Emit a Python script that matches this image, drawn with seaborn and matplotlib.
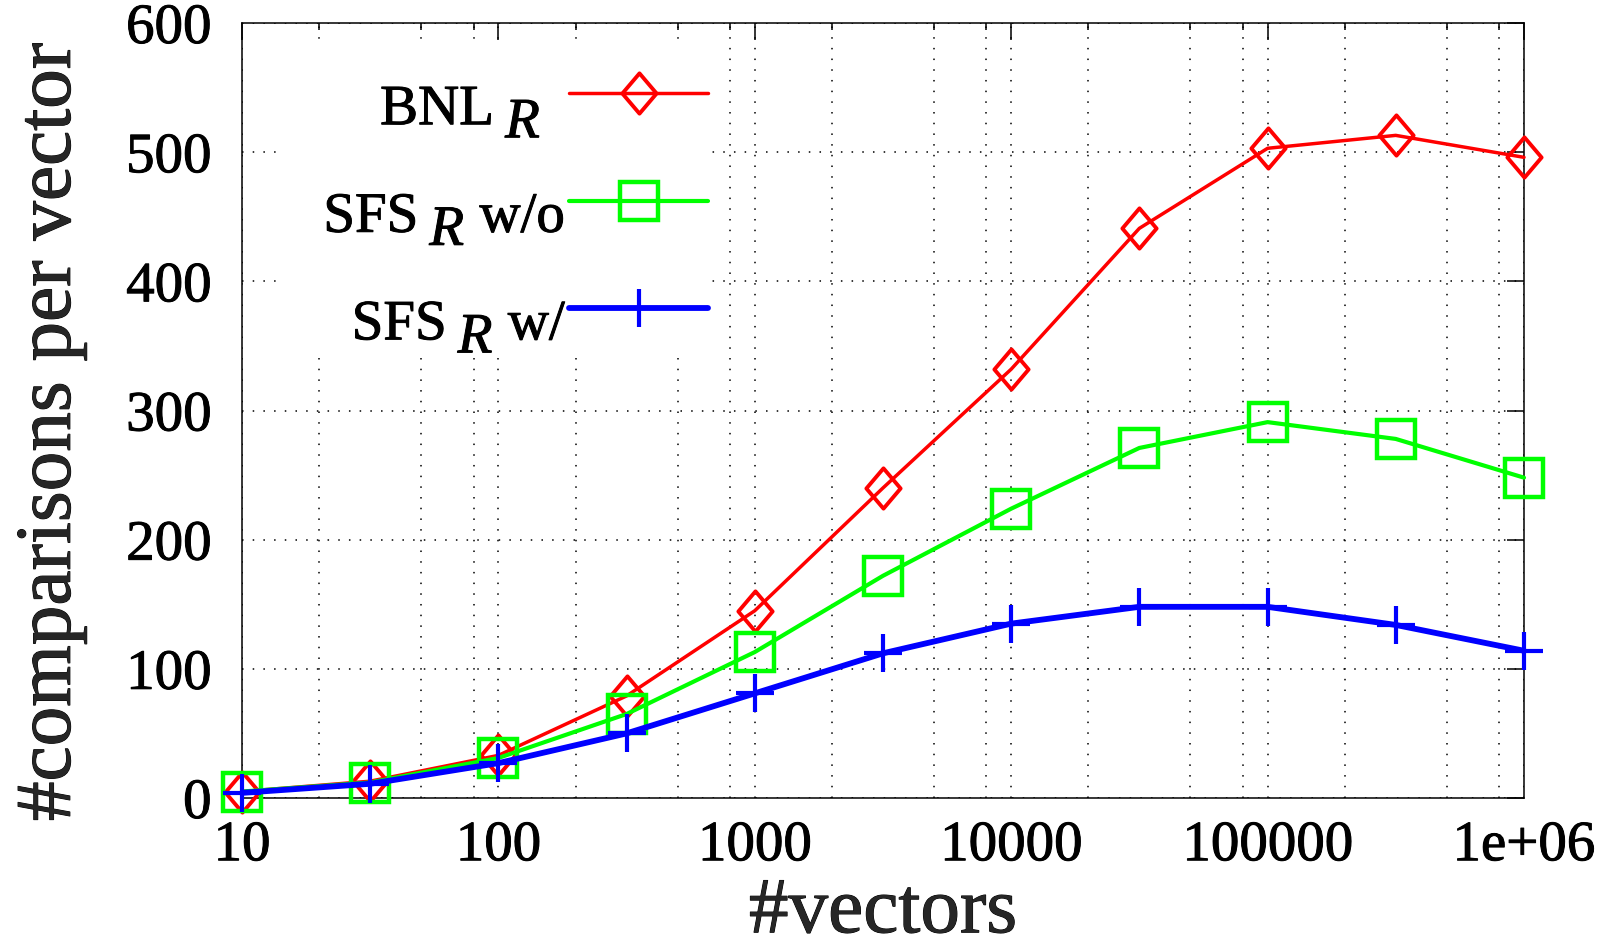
import matplotlib
matplotlib.use("Agg")
import matplotlib.pyplot as plt
import matplotlib.patheffects as pe
import seaborn as sns
from matplotlib.ticker import LogLocator, NullFormatter, NullLocator
from matplotlib.lines import Line2D
from matplotlib.path import Path
from matplotlib.patches import Rectangle
from matplotlib.offsetbox import (TextArea, DrawingArea, HPacker, VPacker,
                                  AnchoredOffsetbox)

# ---- data -------------------------------------------------------------
n_vectors = [1e1, 3.16e1, 1e2, 3.16e2, 1e3, 3.16e3, 1e4, 3.16e4, 1e5, 3.16e5, 1e6]
bnl_r = [5, 13, 33, 79, 145, 240, 332, 441, 503, 513, 496]
sfs_r_without = [5, 12, 31, 65, 113, 172, 224, 271, 291, 278, 248]
sfs_r_with = [4, 11, 27, 50, 81, 112, 135, 148, 148, 134, 114]

x_ticks = [1e1, 1e2, 1e3, 1e4, 1e5, 1e6]
x_tick_labels = ["10", "100", "1000", "10000", "100000", "1e+06"]
y_ticks = [0, 100, 200, 300, 400, 500, 600]

# label pieces: name, italic subscript, suffix
labels = [("BNL", "R", ""), ("SFS", "R", "w/o"), ("SFS", "R", "w/")]

# ---- style ------------------------------------------------------------
sns.set_style("white")
plt.rcParams["font.family"] = ["Liberation Serif", "DejaVu Serif"]
SERIF = "Liberation Serif"
heavy = [pe.withStroke(linewidth=0.7, foreground="black")]

# slightly tall diamond outline
tall_diamond = Path([(0, 1), (0.85, 0), (0, -1), (-0.85, 0), (0, 1)],
                    [Path.MOVETO, Path.LINETO, Path.LINETO, Path.LINETO,
                     Path.CLOSEPOLY])

styles = [
    dict(color="#ff0000", marker=tall_diamond, ms=29, mew=2.8, lw=2.5),
    dict(color="#00ff00", marker="s", ms=28, mew=3.2, lw=3.0),
    dict(color="#0000ff", marker="+", ms=28, mew=3.0, lw=4.2),
]
series = [bnl_r, sfs_r_without, sfs_r_with]

fig = plt.figure(figsize=(16.13, 9.51), dpi=100)
ax = fig.add_axes([242 / 1613, 1 - 798 / 951, (1524 - 242) / 1613, (798 - 23) / 951])

for i, (vals, st) in enumerate(zip(series, styles)):
    sns.lineplot(x=n_vectors, y=vals, ax=ax, estimator=None, sort=False,
                 color=st["color"], linewidth=st["lw"],
                 marker=st["marker"], markersize=st["ms"],
                 markeredgewidth=st["mew"], markeredgecolor=st["color"],
                 markerfacecolor="none", clip_on=False, zorder=3 + i)

ax.set_xscale("log")
ax.set_xlim(1e1, 1e6)
ax.set_ylim(0, 600)
ax.set_xticks(x_ticks, x_tick_labels)
ax.set_yticks(y_ticks)
ax.xaxis.set_minor_locator(LogLocator(base=10, subs=[2, 5, 8]))
ax.xaxis.set_minor_formatter(NullFormatter())
ax.yaxis.set_minor_locator(NullLocator())

ax.tick_params(which="both", direction="in", top=True, right=True,
               color="black", width=1.1)
ax.tick_params(which="major", length=12, labelsize=41, labelcolor="black")
ax.tick_params(which="minor", length=5)
ax.tick_params(axis="y", pad=22)
ax.tick_params(axis="x", pad=16)
for lab in ax.get_xticklabels() + ax.get_yticklabels():
    lab.set_path_effects(heavy)

for sp in ax.spines.values():
    sp.set_color("black")
    sp.set_linewidth(1.1)
    sp.set_visible(True)

ax.set_axisbelow(True)
grid_kw = dict(color="black", linestyle=(0, (1, 6)), linewidth=1.1)
ax.grid(True, which="both", axis="x", **grid_kw)
ax.grid(True, which="major", axis="y", **grid_kw)

ax.set_xlabel("#vectors", fontsize=57, labelpad=4, path_effects=heavy)
ax.set_ylabel("#comparisons per vector", fontsize=57, path_effects=heavy)
ax.yaxis.set_label_coords(-0.121, 0.472)

# opaque area behind the key
ax.add_patch(Rectangle((0.033, 0.578), 0.332, 0.40, transform=ax.transAxes,
                       facecolor="white", edgecolor="none", zorder=1))

# ---- key: right-aligned text, then a sample line with its marker --------
txt = dict(fontsize=41, family=SERIF, color="black", path_effects=heavy)


def label_box(head, sub, tail, trail):
    parts = [TextArea(head, textprops=txt), DrawingArea(8, 1)]
    sub_ta = TextArea(sub, textprops=dict(txt, style="italic"))
    parts.append(VPacker(children=[DrawingArea(1, 9.4), sub_ta],
                         pad=0, sep=0, align="left"))
    if tail:
        parts.append(DrawingArea(11, 1))
        parts.append(TextArea(tail, textprops=txt))
    if trail:
        parts.append(DrawingArea(trail, 1))
    return HPacker(children=parts, pad=0, sep=0, align="top")


def handle_box(st):
    da = DrawingArea(100, 40, 0, 0)
    y = 33.6
    da.add_artist(Line2D([0, 100], [y, y], color=st["color"], lw=st["lw"]))
    da.add_artist(Line2D([50], [y], linestyle="none", marker=st["marker"],
                         ms=st["ms"], mew=st["mew"], mec=st["color"],
                         mfc="none"))
    return da


rows = []
for (head, sub, tail), st in zip(labels, styles):
    trail = 18 if not tail else 0
    rows.append(HPacker(children=[label_box(head, sub, tail, trail), handle_box(st)],
                        pad=0, sep=3, align="top"))
key = VPacker(children=rows, pad=0, sep=30.6, align="right")
anchored = AnchoredOffsetbox(loc="upper right", child=key, pad=0, borderpad=0,
                             frameon=False, bbox_to_anchor=(0.3635, 0.921),
                             bbox_transform=ax.transAxes)
anchored.set_zorder(10)
ax.add_artist(anchored)

fig.savefig("out.png", dpi=100, facecolor="white")
